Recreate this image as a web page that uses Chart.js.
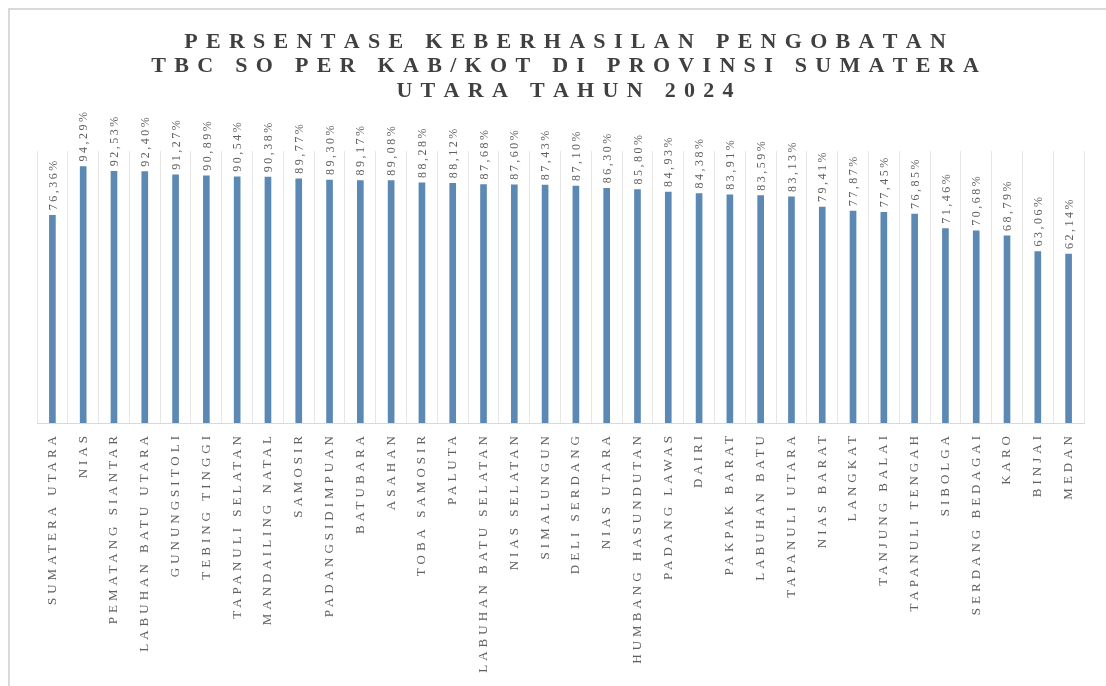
<!DOCTYPE html>
<html>
<head>
<meta charset="utf-8">
<title>Persentase Keberhasilan Pengobatan TBC SO 2024</title>
<script src="https://cdn.jsdelivr.net/npm/chart.js@4/dist/chart.umd.min.js"></script>
<style>
  html, body { margin: 0; padding: 0; background: #fff; width: 1106px; height: 686px; overflow: hidden; }
  #frame { position: absolute; left: 8px; top: 8px; width: 1200px; height: 800px; border: 2px solid #d9d9d9; box-sizing: border-box; }
  #chart { position: absolute; left: 0; top: 0; }
</style>
</head>
<body>
<div id="frame"></div>
<canvas id="chart" width="1106" height="686"></canvas>
<script>
// Chart title, one entry per line
const titleLines = [
  'PERSENTASE KEBERHASILAN PENGOBATAN',
  'TBC SO PER KAB/KOT DI PROVINSI SUMATERA',
  'UTARA TAHUN 2024'
];

// Province total followed by each regency / city
const regions = [
  'SUMATERA UTARA', 'NIAS', 'PEMATANG SIANTAR', 'LABUHAN BATU UTARA', 'GUNUNGSITOLI',
  'TEBING TINGGI', 'TAPANULI SELATAN', 'MANDAILING NATAL', 'SAMOSIR', 'PADANGSIDIMPUAN',
  'BATUBARA', 'ASAHAN', 'TOBA SAMOSIR', 'PALUTA', 'LABUHAN BATU SELATAN',
  'NIAS SELATAN', 'SIMALUNGUN', 'DELI SERDANG', 'NIAS UTARA', 'HUMBANG HASUNDUTAN',
  'PADANG LAWAS', 'DAIRI', 'PAKPAK BARAT', 'LABUHAN BATU', 'TAPANULI UTARA',
  'NIAS BARAT', 'LANGKAT', 'TANJUNG BALAI', 'TAPANULI TENGAH', 'SIBOLGA',
  'SERDANG BEDAGAI', 'KARO', 'BINJAI', 'MEDAN'
];

// Treatment success rate (%)
const successRates = [
  76.36, 94.29, 92.53, 92.40, 91.27,
  90.89, 90.54, 90.38, 89.77, 89.30,
  89.17, 89.08, 88.28, 88.12, 87.68,
  87.60, 87.43, 87.10, 86.30, 85.80,
  84.93, 84.38, 83.91, 83.59, 83.13,
  79.41, 77.87, 77.45, 76.85, 71.46,
  70.68, 68.79, 63.06, 62.14
];

// Value axis range
const valueAxis = { min: 0, max: 100 };

const TITLE_GREY = '#404040';
const TEXT_GREY = '#606060';

function formatPct(v) {
  return v.toFixed(2).replace('.', ',') + '%';
}

// Draws text one glyph at a time with extra tracking between glyphs
function drawTracked(ctx, text, x, y, tracking) {
  let cx = x;
  for (const ch of text) {
    ctx.fillText(ch, cx, y);
    cx += ctx.measureText(ch).width + tracking;
  }
}
function trackedWidth(ctx, text, tracking) {
  let w = 0;
  for (const ch of text) w += ctx.measureText(ch).width + tracking;
  return w - tracking;
}

// Wide-tracked category labels on the x axis
const trackedTicks = {
  id: 'trackedTicks',
  beforeDraw(chart) { chart.ctx.letterSpacing = '4px'; },
  beforeDatasetsDraw(chart) { chart.ctx.letterSpacing = '0px'; }
};

// Rotated percentage label above each bar
const barValueLabels = {
  id: 'barValueLabels',
  afterDatasetsDraw(chart) {
    const ctx = chart.ctx;
    const meta = chart.getDatasetMeta(0);
    ctx.save();
    ctx.font = '12px "Liberation Serif"';
    ctx.fillStyle = TEXT_GREY;
    ctx.textAlign = 'left';
    ctx.textBaseline = 'middle';
    meta.data.forEach((bar, i) => {
      const text = formatPct(chart.data.datasets[0].data[i]);
      ctx.save();
      ctx.translate(bar.x + 1, bar.y - 5);
      ctx.rotate(-Math.PI / 2);
      drawTracked(ctx, text, 0, 0, 2.5);
      ctx.restore();
    });
    ctx.restore();
  }
};

// Letter-spaced multi-line title
const trackedTitle = {
  id: 'trackedTitle',
  afterDraw(chart) {
    const ctx = chart.ctx;
    ctx.save();
    ctx.font = 'bold 22px "Liberation Serif"';
    ctx.fillStyle = TITLE_GREY;
    ctx.textAlign = 'left';
    ctx.textBaseline = 'middle';
    const cx = 565;
    titleLines.forEach((line, i) => {
      const w = trackedWidth(ctx, line, 8.3);
      drawTracked(ctx, line, cx - w / 2, 42 + i * 24.5, 8.3);
    });
    ctx.restore();
  }
};

new Chart(document.getElementById('chart'), {
  type: 'bar',
  data: {
    labels: regions,
    datasets: [{
      data: successRates,
      backgroundColor: '#5b89b3',
      barThickness: 6
    }]
  },
  options: {
    responsive: false,
    animation: false,
    layout: { padding: { left: 37, right: 22, top: 151, bottom: 0 } },
    plugins: {
      legend: { display: false },
      title: { display: false },
      tooltip: { enabled: false }
    },
    scales: {
      x: {
        offset: true,
        grid: { display: true, offset: true, color: '#e6e6e6', drawTicks: false },
        border: { display: true, color: '#d9d9d9' },
        ticks: {
          autoSkip: false,
          minRotation: 90,
          maxRotation: 90,
          padding: 9,
          color: TEXT_GREY,
          font: { family: '"Liberation Serif"', size: 13 }
        },
        afterFit(scale) { scale.height = 263; }
      },
      y: {
        display: false,
        min: valueAxis.min,
        max: valueAxis.max
      }
    }
  },
  plugins: [trackedTicks, barValueLabels, trackedTitle]
});
</script>
</body>
</html>
